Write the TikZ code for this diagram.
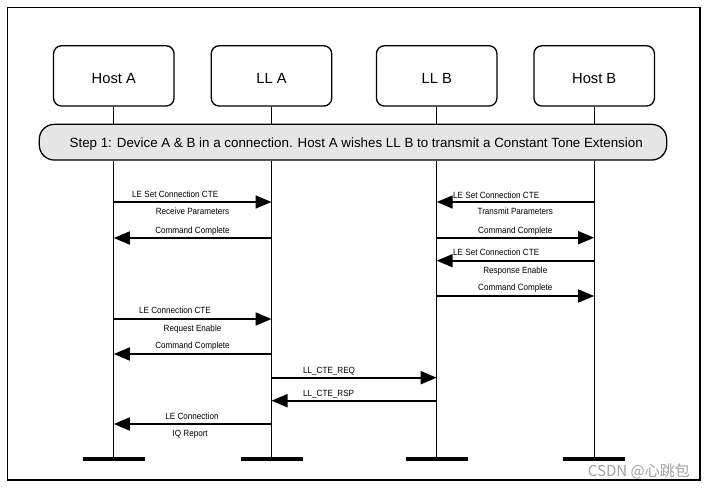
\documentclass[tikz,border=0pt]{standalone}
\usepackage{fontspec}
\setmainfont{Liberation Sans}
\newfontfamily\lblfont[FakeStretch=0.9]{Liberation Sans}
\newfontfamily\wmfont{Noto Sans CJK SC}
\usetikzlibrary{arrows.meta}
\definecolor{pillgray}{RGB}{230,230,230}
\definecolor{wmgray}{RGB}{160,160,160}
\begin{document}
\begin{tikzpicture}[x=1pt,y=-1pt,
  ent/.style={draw,line width=1.3pt,rounded corners=8pt,minimum width=120.5pt,minimum height=60.3pt,inner sep=0pt,text height=14.8pt,text depth=0pt,font=\fontsize{14.7}{16}\selectfont},
  pill/.style={draw,line width=1.3pt,fill=pillgray,rounded corners=15pt,minimum width=627.4pt,minimum height=35.7pt,inner sep=0pt},
  stxt/.style={inner sep=0pt,font=\fontsize{13.35}{15}\selectfont},
  life/.style={line width=1.3pt},
  bar/.style={line width=3.2pt},
  msg/.style={line width=1.7pt,-{Triangle[length=16pt,width=13pt]}},
  lbl/.style={inner sep=0pt,font=\lblfont\fontsize{9}{10}\selectfont},
  frame/.style={line width=1.3pt}
]
\useasboundingbox (0,0) rectangle (705,489);
\draw[frame] (7.3,7.7) rectangle (700,480);

\node[ent] (ha) at (113.8,75.9) {Host A};
\node[ent] (la) at (271.5,75.9) {LL A};
\node[ent] (lb) at (436.7,75.9) {LL B};
\node[ent] (hb) at (594.2,75.9) {Host B};
\node[pill] (st) at (353,142.2) {};
\node[stxt,anchor=base] (stt) at (356.2,147.3) {Step 1: Device A \& B in a connection. Host A wishes LL B to transmit a Constant Tone Extension};

\foreach \n in {ha,la,lb,hb}{
  \draw[life] (\n.south) -- (\n.south |- st.north);
  \coordinate (\n end) at (\n.south |- 0,459);
  \draw[life] (\n.south |- st.south) -- (\n end);
  \draw[bar] ([xshift=-31pt]\n end) -- ([xshift=31pt]\n end);
}

% Host A -> LL A
\draw[msg] (ha |- 0,202) -- (la |- 0,202);
\node[lbl,anchor=base west] (m1a) at (132,198) {LE Set Connection CTE};
\node[lbl,anchor=base] (m1b) at (192.5,214.5) {Receive Parameters};
\draw[msg] (la |- 0,238) -- (ha |- 0,238);
\node[lbl,anchor=base] (m2) at (192.5,233.3) {Command Complete};

% Host B -> LL B
\draw[msg] (hb |- 0,202) -- (lb |- 0,202);
\node[lbl,anchor=base west] (m3a) at (453,198.3) {LE Set Connection CTE};
\node[lbl,anchor=base] (m3b) at (515.3,214.5) {Transmit Parameters};
\draw[msg] (lb |- 0,237.7) -- (hb |- 0,237.7);
\node[lbl,anchor=base] (m4) at (515.3,233.3) {Command Complete};
\draw[msg] (hb |- 0,260.7) -- (lb |- 0,260.7);
\node[lbl,anchor=base west] (m5a) at (453,256) {LE Set Connection CTE};
\node[lbl,anchor=base] (m5b) at (515.3,273.2) {Response Enable};
\draw[msg] (lb |- 0,296) -- (hb |- 0,296);
\node[lbl,anchor=base] (m6) at (515.3,291) {Command Complete};

% Host A -> LL A
\draw[msg] (ha |- 0,319) -- (la |- 0,319);
\node[lbl,anchor=base west] (m7a) at (139,314) {LE Connection CTE};
\node[lbl,anchor=base] (m7b) at (192.5,331.2) {Request Enable};
\draw[msg] (la |- 0,354) -- (ha |- 0,354);
\node[lbl,anchor=base] (m8) at (192.5,349) {Command Complete};

% LL A <-> LL B
\draw[msg] (la |- 0,377.7) -- (lb |- 0,377.7);
\node[lbl,anchor=base west] (m9) at (303,373.3) {LL\_CTE\_REQ};
\draw[msg] (lb |- 0,400.7) -- (la |- 0,400.7);
\node[lbl,anchor=base west] (m10) at (303,396) {LL\_CTE\_RSP};

% LL A -> Host A
\draw[msg] (la |- 0,424) -- (ha |- 0,424);
\node[lbl,anchor=base] (m11a) at (192,419) {LE Connection};
\node[lbl,anchor=base] (m11b) at (190.2,436.2) {IQ Report};

\node[anchor=base east,inner sep=0pt,text=wmgray,font=\wmfont\fontsize{15}{16}\selectfont] (wm) at (690,476) {CSDN @心跳包};
\end{tikzpicture}
\end{document}
